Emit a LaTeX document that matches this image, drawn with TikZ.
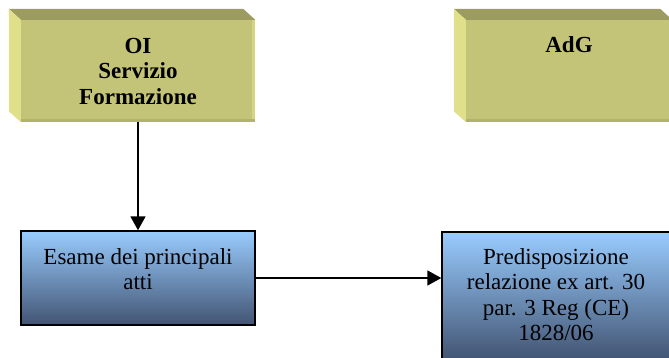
\documentclass[tikz,border=0pt]{standalone}
\usepackage{fontspec}
\setmainfont{Liberation Serif}
\usetikzlibrary{arrows.meta}
\definecolor{facecol}{RGB}{196,196,120}
\definecolor{topcol}{RGB}{156,156,96}
\definecolor{sidecol}{RGB}{224,224,138}
\definecolor{shadecol}{RGB}{178,178,104}
\definecolor{litecol}{RGB}{212,212,130}
\definecolor{skytop}{RGB}{153,204,255}
\definecolor{skybot}{RGB}{66,84,114}
\begin{document}
\begin{tikzpicture}[x=1pt,y=-1pt,
    face/.style={fill=facecol, inner sep=0pt, minimum height=102pt},
    stepbox/.style={draw, line width=1.4pt, inner sep=0pt, top color=skytop, bottom color=skybot},
    lbl/.style={anchor=north, align=center, inner sep=0pt, font=\fontsize{23}{25.5}\selectfont},
    flow/.style={line width=1.8pt, -{Triangle[length=14pt,width=15pt]}}]
    \useasboundingbox (0,0) rectangle (669,358);
    \def\dx{12}
    \def\dy{11}
    % yellow boxes with their 3D top and left faces
    \foreach \n/\x/\w in {oi/138/234,adg/569/206}{%
        \node[face, minimum width=\w pt] (\n) at (\x,71) {};
        \fill[topcol] (\n.north west) -- ++(-\dx,-\dy) -- ([shift={(-\dx,-\dy)}]\n.north east) -- (\n.north east) -- cycle;
        \fill[sidecol] (\n.north west) -- ++(-\dx,-\dy) -- ([shift={(-\dx,-\dy)}]\n.south west) -- (\n.south west) -- cycle;
        \fill[shadecol] ([yshift=3pt]\n.south west) rectangle (\n.south east);
        \fill[litecol] ([xshift=-3pt]\n.north east) rectangle ([yshift=3pt]\n.south east);
    }
    \node[lbl, font=\fontsize{23}{25.5}\selectfont\bfseries] (oitext) at (138,38) {OI\\Servizio\\Formazione};
    \node[lbl, font=\fontsize{23}{25.5}\selectfont\bfseries] (adgtext) at (569,36) {AdG};
    % blue boxes
    \node[stepbox, minimum width=234pt, minimum height=94pt] (esame) at (138,278) {};
    \node[stepbox, minimum width=230pt, minimum height=128pt] (predisp) at (557,296) {};
    \node[lbl] (esametext) at (138,248) {Esame dei principali\\atti};
    \node[lbl] (predisptext) at (556,248) {Predisposizione\\relazione ex art. 30\\par. 3 Reg (CE)\\1828/06};
    % arrows
    \draw[flow] (oi.south) -- (esame.north);
    \draw[flow] (esame.east) -- (esame.east -| predisp.west);
\end{tikzpicture}
\end{document}
